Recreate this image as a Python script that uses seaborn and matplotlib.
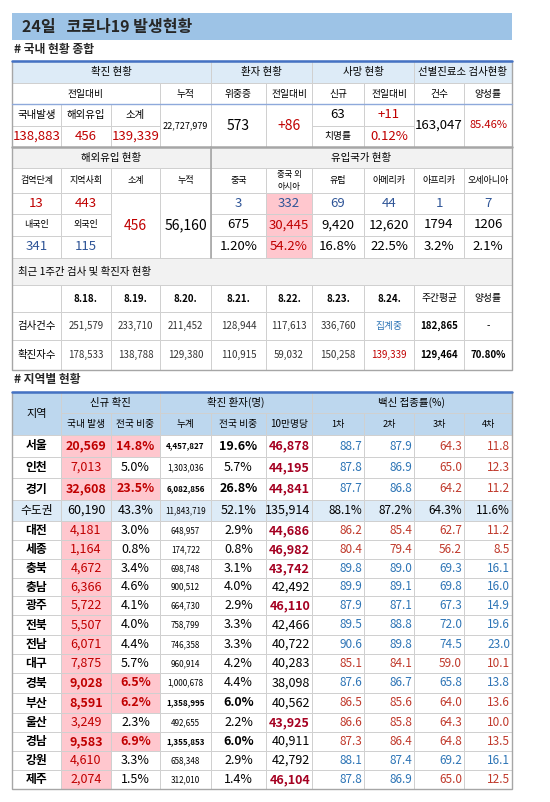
import matplotlib
matplotlib.use("Agg")
import matplotlib.pyplot as plt
import seaborn as sns
from matplotlib.patches import Rectangle

# ---- data ----
domestic_new = [138883, 456, 139339]
cumulative_total = 22727979
critical, critical_diff = 573, 86
deaths, deaths_diff, fatality = 63, 11, 0.12
screening_tests, positive_rate = 163047, 85.46

overseas_stage = [13, 443]
overseas_nat = [341, 115]
overseas_sub, overseas_cum = 456, 56160
origin_labels = ["중국", "중국 외\n아시아", "유럽", "아메리카", "아프리카", "오세아니아"]
origin_today = [3, 332, 69, 44, 1, 7]
origin_cum = [675, 30445, 9420, 12620, 1794, 1206]
origin_share = ["1.20%", "54.2%", "16.8%", "22.5%", "3.2%", "2.1%"]

week_dates = ["8.18.", "8.19.", "8.20.", "8.21.", "8.22.", "8.23.", "8.24."]
week_tests = [251579, 233710, 211452, 128944, 117613, 336760, None]
week_cases = [178533, 138788, 129380, 110915, 59032, 150258, 139339]
week_avg_tests, week_avg_cases, week_pos = 182865, 129464, "70.80%"

regions = ["서울", "인천", "경기", "수도권", "대전", "세종", "충북", "충남", "광주",
           "전북", "전남", "대구", "경북", "부산", "울산", "경남", "강원", "제주"]
new_cases = [20569, 7013, 32608, 60190, 4181, 1164, 4672, 6366, 5722,
             5507, 6071, 7875, 9028, 8591, 3249, 9583, 4610, 2074]
new_share = [14.8, 5.0, 23.5, 43.3, 3.0, 0.8, 3.4, 4.6, 4.1,
             4.0, 4.4, 5.7, 6.5, 6.2, 2.3, 6.9, 3.3, 1.5]
cum_cases = [4457827, 1303036, 6082856, 11843719, 648957, 174722, 698748, 900512, 664730,
             758799, 746358, 960914, 1000678, 1358995, 492655, 1355853, 658348, 312010]
cum_share = [19.6, 5.7, 26.8, 52.1, 2.9, 0.8, 3.1, 4.0, 2.9,
             3.3, 3.3, 4.2, 4.4, 6.0, 2.2, 6.0, 2.9, 1.4]
per100k = [46878, 44195, 44841, 135914, 44686, 46982, 43742, 42492, 46110,
           42466, 40722, 40283, 38098, 40562, 43925, 40911, 42792, 46104]
vac1 = [88.7, 87.8, 87.7, 88.1, 86.2, 80.4, 89.8, 89.9, 87.9, 89.5, 90.6, 85.1, 87.6, 86.5, 86.6, 87.3, 88.1, 87.8]
vac2 = [87.9, 86.9, 86.8, 87.2, 85.4, 79.4, 89.0, 89.1, 87.1, 88.8, 89.8, 84.1, 86.7, 85.6, 85.8, 86.4, 87.4, 86.9]
vac3 = [64.3, 65.0, 64.2, 64.3, 62.7, 56.2, 69.3, 69.8, 67.3, 72.0, 74.5, 59.0, 65.8, 64.0, 64.3, 64.8, 69.2, 65.0]
vac4 = [11.8, 12.3, 11.2, 11.6, 11.2, 8.5, 16.1, 16.0, 14.9, 19.6, 23.0, 10.1, 13.8, 13.6, 10.0, 13.5, 16.1, 12.5]

# ---- style ----
vac_colors = ["bbrr", "bbrr", "bbrr", "kkkk", "rrrr", "rrrr", "bbbb", "bbbb", "bbbb",
              "bbbb", "bbbb", "rrrr", "bbbb", "rrrr", "rrrr", "rrrr", "bbbb", "bbrr"]
hot_share = {"서울", "경기", "경북", "부산", "경남"}
bold_cum = {"서울", "경기", "부산", "경남"}
red_100k = {"서울", "인천", "경기", "대전", "세종", "충북", "광주", "울산", "제주"}

RED, DRED, BLUE, VBLUE, VRED = "#C00000", "#A50021", "#2F5597", "#2E75B6", "#C0392B"
PINK, HEAD, HEAD2, GRAY, GRID = "#FFC7CE", "#DDEBF7", "#BDD7EE", "#F2F2F2", "#D0D0D0"
COLS = [12, 61, 111, 160, 211, 266, 312, 364, 414, 464, 512]

sns.set_theme(style="white")
plt.rcParams["font.family"] = ["Noto Sans CJK KR", "DejaVu Sans"]

fig = plt.figure(figsize=(5.5, 8.02), dpi=100)
ax = fig.add_axes([0, 0, 1, 1])
ax.set_xlim(0, 550)
ax.set_ylim(802, 0)
ax.axis("off")


def cell(c0, c1, y0, y1, fc="white", ec=GRID):
    ax.add_patch(Rectangle((COLS[c0], y0), COLS[c1] - COLS[c0], y1 - y0,
                           facecolor=fc, edgecolor=ec, linewidth=0.7))


def txt(c0, c1, y0, y1, s, size=8, color="black", bold=False, ha="center"):
    if ha == "center":
        x = (COLS[c0] + COLS[c1]) / 2
    elif ha == "right":
        x = COLS[c1] - 2
    else:
        x = COLS[c0] + 6
    ax.text(x, (y0 + y1) / 2, s, ha=ha, va="center", fontsize=size, color=color,
            fontweight="bold" if bold else "normal", linespacing=1.5)


def box(c0, c1, y0, y1, s="", fc="white", **kw):
    cell(c0, c1, y0, y1, fc)
    if s != "":
        txt(c0, c1, y0, y1, s, **kw)


# title
ax.add_patch(Rectangle((12, 13), 500, 27, facecolor="#9DC3E6", edgecolor="none"))
ax.text(22, 27, "24일   코로나19 발생현황", fontsize=11.5, fontweight="bold", va="center")
ax.text(14, 50, "# 국내 현황 종합", fontsize=8.5, fontweight="bold", va="center")

# section 1
for c0, c1, s in [(0, 4, "확진 현황"), (4, 6, "환자 현황"), (6, 8, "사망 현황"), (8, 10, "선별진료소 검사현황")]:
    box(c0, c1, 61, 83, s, fc=HEAD, size=7.5)
for c0, c1, s in [(0, 3, "전일대비"), (3, 4, "누적"), (4, 5, "위중증"), (5, 6, "전일대비"),
                  (6, 7, "신규"), (7, 8, "전일대비"), (8, 9, "건수"), (9, 10, "양성률")]:
    box(c0, c1, 83, 104, s, size=7)
for i, s in enumerate(["국내발생", "해외유입", "소계"]):
    box(i, i + 1, 104, 126, s, size=7.5)
    box(i, i + 1, 126, 147, f"{domestic_new[i]:,}", size=9.5, color=RED)
box(3, 4, 104, 147, f"{cumulative_total:,}", size=6.5)
box(4, 5, 104, 147, f"{critical}", size=10)
box(5, 6, 104, 147, f"+{critical_diff}", size=10, color=RED)
box(6, 7, 104, 126, f"{deaths}", size=9.5)
box(7, 8, 104, 126, f"+{deaths_diff}", size=9.5, color=RED)
box(6, 7, 126, 147, "치명률", size=7)
box(7, 8, 126, 147, f"{fatality:.2f}%", size=9.5, color=RED)
box(8, 9, 104, 147, f"{screening_tests:,}", size=9.5)
box(9, 10, 104, 147, f"{positive_rate:.2f}%", size=8, color=RED)
ax.plot([12, 512], [61, 61], color="#4472C4", lw=1.8)
ax.plot([12, 512], [104, 104], color="#8EA9DB", lw=1.0)

# section 2
box(0, 4, 147, 168, "해외유입 현황", fc=GRAY, size=7.5)
box(4, 10, 147, 168, "유입국가 현황", fc=GRAY, size=7.5)
for i, s in enumerate(["검역단계", "지역사회", "소계", "누적"] + origin_labels):
    box(i, i + 1, 168, 193, s, size=6 if "\n" in s else 6.5)
for i in range(2):
    box(i, i + 1, 193, 214, f"{overseas_stage[i]}", size=9.5, color=RED)
    box(i, i + 1, 214, 236, ["내국인", "외국인"][i], size=6.5)
    box(i, i + 1, 236, 258, f"{overseas_nat[i]}", size=9.5, color=BLUE)
box(2, 3, 193, 258, f"{overseas_sub}", size=10, color=RED)
box(3, 4, 193, 258, f"{overseas_cum:,}", size=10)
for i in range(6):
    hot = i == 1
    fc = PINK if hot else "white"
    box(4 + i, 5 + i, 193, 214, f"{origin_today[i]}", fc=fc, size=9.5, color=BLUE)
    box(4 + i, 5 + i, 214, 236, f"{origin_cum[i]:,}" if i < 4 else f"{origin_cum[i]}",
        fc=fc, size=9.5, color=RED if hot else "black")
    box(4 + i, 5 + i, 236, 258, origin_share[i], fc=fc, size=9.5, color=RED if hot else "black")
ax.plot([12, 512], [147, 147], color="#A6A6A6", lw=1.8)
ax.plot([COLS[4]] * 2, [147, 258], color="#A6A6A6", lw=1.2)

# section 3
box(0, 10, 258, 285, fc=GRAY)
txt(0, 1, 258, 285, "최근 1주간 검사 및 확진자 현황", size=7.5, ha="left")
box(0, 1, 285, 312)
for i, d in enumerate(week_dates):
    box(1 + i, 2 + i, 285, 312, d, size=7, bold=True)
    t = week_tests[i]
    box(1 + i, 2 + i, 312, 340, "집계중" if t is None else f"{t:,}", size=7,
        color=VBLUE if t is None else "#333333")
    box(1 + i, 2 + i, 340, 370, f"{week_cases[i]:,}", size=7,
        color=RED if i == 6 else "#333333")
box(8, 9, 285, 312, "주간평균", size=7)
box(9, 10, 285, 312, "양성률", size=7)
box(0, 1, 312, 340, "검사건수", size=7.5)
box(0, 1, 340, 370, "확진자수", size=7.5)
box(8, 9, 312, 340, f"{week_avg_tests:,}", size=7, bold=True)
box(9, 10, 312, 340, "-", size=7)
box(8, 9, 340, 370, f"{week_avg_cases:,}", size=7, bold=True)
box(9, 10, 340, 370, week_pos, size=7, bold=True)
ax.add_patch(Rectangle((12, 61), 500, 309, facecolor="none", edgecolor="#A6A6A6", lw=1.0))

# regional table
ax.text(14, 380, "# 지역별 현황", fontsize=8.5, fontweight="bold", va="center")
box(0, 1, 392, 435, "지역", fc=HEAD2, size=8)
for c0, c1, s in [(1, 3, "신규 확진"), (3, 6, "확진 환자(명)"), (6, 10, "백신 접종률(%)")]:
    box(c0, c1, 392, 413, s, fc=HEAD2, size=7.5)
for i, s in enumerate(["국내 발생", "전국 비중", "누계", "전국 비중", "10만명당", "1차", "2차", "3차", "4차"]):
    box(1 + i, 2 + i, 413, 435, s, fc=HEAD2, size=7 if i < 5 else 6.5)
ax.plot([12, 512], [392, 392], color="#4472C4", lw=1.8)

edges = [435, 457, 478, 500, 521, 540, 559, 578, 596, 615, 635, 654, 673, 693, 713, 732, 751, 770, 789]
cmap = {"b": VBLUE, "r": VRED, "k": "black"}
for r, name in enumerate(regions):
    y0, y1 = edges[r], edges[r + 1]
    metro = name == "수도권"
    base = HEAD if metro else "white"
    for c in range(10):
        cell(c, c + 1, y0, y1, base)
    txt(0, 1, y0, y1, name, size=8.5, bold=not metro)
    hot = name in hot_share
    if not metro:
        cell(1, 2, y0, y1, PINK)
        if hot:
            cell(2, 3, y0, y1, PINK)
    txt(1, 2, y0, y1, f"{new_cases[r]:,}", size=9, color="black" if metro else RED, bold=hot)
    txt(2, 3, y0, y1, f"{new_share[r]:.1f}%", size=9, color=RED if hot else "black", bold=hot)
    txt(3, 4, y0, y1, f"{cum_cases[r]:,}", size=5.8, bold=name in bold_cum)
    txt(4, 5, y0, y1, f"{cum_share[r]:.1f}%", size=9, bold=name in bold_cum)
    red = name in red_100k
    txt(5, 6, y0, y1, f"{per100k[r]:,}", size=9, color=DRED if red else "black", bold=red, ha="right")
    for k, v in enumerate([vac1, vac2, vac3, vac4]):
        s = f"{v[r]:.1f}%" if metro else f"{v[r]:.1f}"
        txt(6 + k, 7 + k, y0, y1, s, size=8.5, color=cmap[vac_colors[r][k]], ha="right")
ax.add_patch(Rectangle((12, 392), 500, 789 - 392, facecolor="none", edgecolor="#A6A6A6", lw=1.0))

fig.savefig("out.png", dpi=100)
